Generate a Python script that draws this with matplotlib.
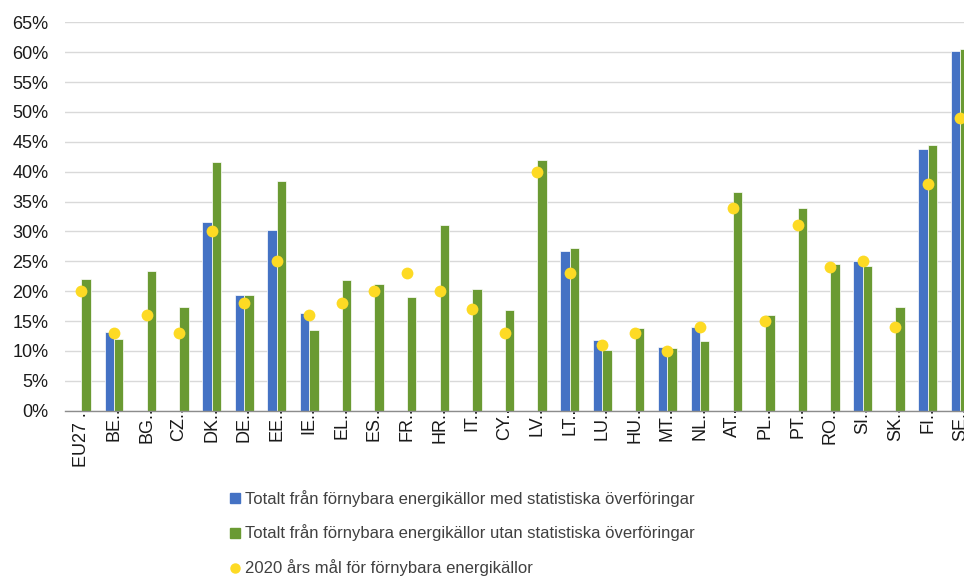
import numpy as np
import matplotlib
matplotlib.use("Agg")
import matplotlib.pyplot as plt
from matplotlib.lines import Line2D

plt.rcParams['font.family'] = ['Liberation Sans', 'DejaVu Sans']

# country codes (labels are truncated in the original chart)
countries = ['EU27', 'BE', 'BG', 'CZ', 'DK', 'DE', 'EE', 'IE', 'EL', 'ES',
             'FR', 'HR', 'IT', 'CY', 'LV', 'LT', 'LU', 'HU', 'MT', 'NL',
             'AT', 'PL', 'PT', 'RO', 'SI', 'SK', 'FI', 'SE']
tick_labels = ['EU27 ...'] + [c + '...' for c in countries[1:]]

# share of renewables, percent
with_transfers = [np.nan, 13.1, np.nan, np.nan, 31.6, 19.3, 30.2, 16.3, np.nan, np.nan,
                  np.nan, np.nan, np.nan, np.nan, np.nan, 26.7, 11.8, np.nan, 10.7, 14.0,
                  np.nan, np.nan, np.nan, np.nan, 25.0, np.nan, 43.8, 60.2]
without_transfers = [22.0, 12.0, 23.3, 17.4, 41.6, 19.3, 38.4, 13.5, 21.8, 21.2,
                     19.0, 31.0, 20.3, 16.9, 42.0, 27.3, 10.1, 13.9, 10.5, 11.6,
                     36.6, 16.1, 34.0, 24.6, 24.2, 17.4, 44.4, 60.6]
target_2020 = [20, 13, 16, 13, 30, 18, 25, 16, 18, 20,
               23, 20, 17, 13, 40, 23, 11, 13, 10, 14,
               34, 15, 31, 24, 25, 14, 38, 49]

blue = '#4472C4'
green = '#6A9A32'
yellow = '#FDDA24'

x = np.arange(len(countries))
w = 0.29

fig = plt.figure(figsize=(9.64, 5.78), dpi=100)
ax = fig.add_axes([0.0674, 0.2894, 0.9326, 0.672])

ax.bar(x - w / 2, np.array(with_transfers) / 100, width=w, color=blue,
       edgecolor='white', linewidth=0.5, zorder=2)
ax.bar(x + w / 2, np.array(without_transfers) / 100, width=w, color=green,
       edgecolor='white', linewidth=0.5, zorder=2)
ax.plot(x, np.array(target_2020) / 100, 'o', color=yellow, markersize=8.5,
        markeredgewidth=0, zorder=3)

ax.set_xlim(-0.505, 27.11)
ax.set_ylim(0, 0.65)
yt = np.arange(0, 0.651, 0.05)
ax.set_yticks(yt)
ax.set_yticklabels([f'{int(round(v * 100))}%' for v in yt])
ax.set_xticks(x)
ax.set_xticklabels(tick_labels, rotation=90)
ax.tick_params(axis='both', length=0, labelsize=13, colors='#1a1a1a')
ax.tick_params(axis='y', pad=12)
ax.tick_params(axis='x', pad=-6)

ax.yaxis.grid(True, color='#D9D9D9', linewidth=1.0, zorder=0)
ax.set_axisbelow(True)
for s in ['top', 'right', 'left']:
    ax.spines[s].set_visible(False)
ax.spines['bottom'].set_color('#8C8C8C')
ax.spines['bottom'].set_linewidth(1.0)
ax.spines['bottom'].set_zorder(4)

handles = [
    Line2D([], [], marker='s', linestyle='none', color=blue, markersize=6.5),
    Line2D([], [], marker='s', linestyle='none', color=green, markersize=6.5),
    Line2D([], [], marker='o', linestyle='none', color=yellow, markersize=6.5),
]
labels = ['Totalt från förnybara energikällor med statistiska överföringar',
          'Totalt från förnybara energikällor utan statistiska överföringar',
          '2020 års mål för förnybara energikällor']
leg = fig.legend(handles, labels, loc='upper left', bbox_to_anchor=(0.239, 0.153),
                 frameon=False, fontsize=12, handlelength=0.6, handletextpad=0.3,
                 labelspacing=1.08, borderpad=0, borderaxespad=0)
for t in leg.get_texts():
    t.set_color('#404040')

fig.savefig('out.png', dpi=100)
